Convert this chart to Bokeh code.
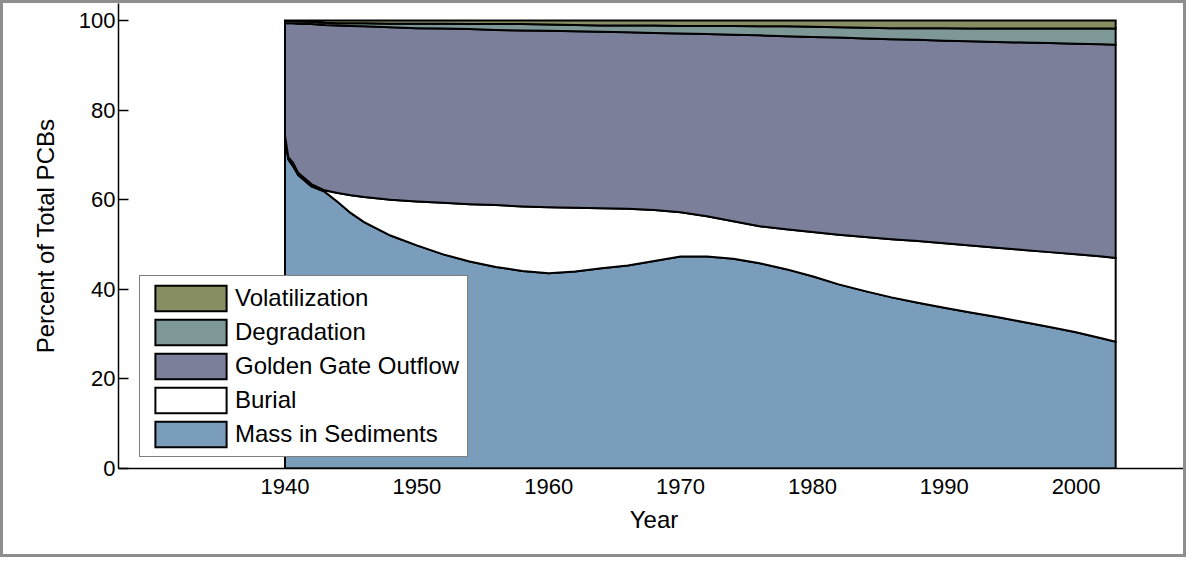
import numpy as np
from bokeh.plotting import figure
from bokeh.models import FixedTicker, Legend, LegendItem, Range1d
from bokeh.embed import file_html
from bokeh.resources import INLINE

# ---- data (percent of total PCBs) ----
years = [1940, 1940.25, 1940.6, 1941, 1942, 1943, 1944, 1945, 1946, 1948,
         1950, 1952, 1954, 1956, 1958, 1960, 1962, 1964, 1966, 1968,
         1970, 1972, 1974, 1976, 1978, 1980, 1982, 1984, 1986, 1988,
         1990, 1992, 1994, 1996, 1998, 2000, 2002, 2003]

mass_in_sediments = [74.0, 69.0, 67.5, 65.5, 63.0, 61.8, 59.5, 57.0, 55.0, 52.0,
                     49.8, 47.8, 46.2, 45.0, 44.1, 43.6, 44.0, 44.7, 45.3, 46.3,
                     47.3, 47.3, 46.8, 45.8, 44.5, 42.9, 41.1, 39.6, 38.2, 37.0,
                     35.9, 34.8, 33.8, 32.7, 31.6, 30.4, 29.0, 28.3]

burial = [0.3, 0.5, 0.8, 0.5, 0.5, 0.3, 2.0, 4.0, 5.6, 8.0,
          9.8, 11.5, 12.8, 13.8, 14.4, 14.7, 14.2, 13.4, 12.7, 11.4,
          9.9, 9.0, 8.4, 8.3, 8.9, 9.9, 11.1, 12.1, 13.0, 13.8,
          14.4, 15.0, 15.5, 16.1, 16.7, 17.4, 18.3, 18.7]

golden_gate_outflow = [25.1, 29.9, 31.1, 33.3, 35.7, 36.9, 37.4, 37.8, 38.1, 38.5,
                       38.7, 38.9, 39.1, 39.1, 39.3, 39.4, 39.4, 39.4, 39.4, 39.5,
                       39.9, 40.7, 41.6, 42.6, 43.1, 43.5, 44.0, 44.3, 44.6, 44.9,
                       45.2, 45.6, 45.9, 46.3, 46.7, 47.0, 47.4, 47.6]

degradation = [0.5, 0.5, 0.5, 0.5, 0.5, 0.5, 0.5, 0.6, 0.7, 0.8,
               1.0, 1.1, 1.1, 1.3, 1.4, 1.4, 1.4, 1.4, 1.5, 1.7,
               1.7, 1.8, 2.0, 2.0, 2.2, 2.3, 2.3, 2.4, 2.5, 2.6,
               2.8, 2.8, 3.0, 3.1, 3.2, 3.4, 3.5, 3.6]

volatilization = [0.1, 0.1, 0.1, 0.2, 0.3, 0.5, 0.6, 0.6, 0.6, 0.7,
                  0.7, 0.7, 0.8, 0.8, 0.8, 0.9, 1.0, 1.1, 1.1, 1.1,
                  1.2, 1.2, 1.2, 1.3, 1.3, 1.4, 1.5, 1.6, 1.7, 1.7,
                  1.7, 1.8, 1.8, 1.8, 1.8, 1.8, 1.8, 1.8]

series_names = ["Mass in Sediments", "Burial", "Golden Gate Outflow",
                "Degradation", "Volatilization"]
series_values = [mass_in_sediments, burial, golden_gate_outflow,
                 degradation, volatilization]
series_colors = ["#7b9dbc", "#ffffff", "#7b7f99", "#7e9897", "#878f62"]

x_ticks = [1940, 1950, 1960, 1970, 1980, 1990, 2000]
y_ticks = [0, 20, 40, 60, 80, 100]

FONT = "Liberation Sans"

p = figure(width=1186, height=557, output_backend="svg", toolbar_location=None,
           x_range=Range1d(1927.37, 2008.6), y_range=Range1d(0, 103.8),
           min_border_left=115, min_border_right=0, min_border_top=0,
           min_border_bottom=92)
p.styles = {"border": "3px solid #8e8e8e"}

p.background_fill_color = "white"
p.border_fill_color = "white"
p.outline_line_color = None
p.xgrid.visible = False
p.ygrid.visible = False

lower = np.zeros(len(years))
renderers = []
for name, vals, color in zip(series_names, series_values, series_colors):
    upper = lower + np.array(vals, dtype=float)
    xs = list(years) + list(years[::-1])
    ys = list(upper) + list(lower[::-1])
    r = p.patch(xs, ys, fill_color=color, line_color="black", line_width=2,
                line_join="miter")
    renderers.append((name, r))
    lower = upper

items = [LegendItem(label=n, renderers=[r]) for n, r in reversed(renderers)]
legend = Legend(items=items, location=(21, 11), margin=0, padding=6,
                spacing=2, glyph_width=89, glyph_height=32, label_standoff=0,
                label_width=226,
                label_text_font=FONT, label_text_font_size="24px",
                label_text_color="black",
                border_line_color="black", border_line_width=1,
                background_fill_color="white", background_fill_alpha=1.0)
p.add_layout(legend)

# axes
p.xaxis.ticker = FixedTicker(ticks=x_ticks)
p.yaxis.ticker = FixedTicker(ticks=y_ticks)
for ax in (p.xaxis[0], p.yaxis[0]):
    ax.axis_line_color = "black"
    ax.axis_line_width = 1.5
    ax.major_tick_line_color = "black"
    ax.major_tick_line_width = 1.5
    ax.minor_tick_line_color = None
    ax.major_label_text_font = FONT
    ax.major_label_text_font_size = "22px"
    ax.major_label_text_color = "black"
    ax.axis_label_text_font = FONT
    ax.axis_label_text_font_size = "24px"
    ax.axis_label_text_font_style = "normal"
    ax.axis_label_text_color = "black"

p.xaxis.major_tick_in = 0
p.xaxis.major_tick_out = 0
p.xaxis.major_label_standoff = 10
p.xaxis.axis_label = "Year"
p.xaxis.axis_label_standoff = 9

p.yaxis.major_tick_in = 10
p.yaxis.major_tick_out = 0
p.yaxis.major_label_standoff = 3
p.yaxis.axis_label = "Percent of Total PCBs"
p.yaxis.axis_label_standoff = 17

open("out.html", "w").write(file_html(p, INLINE))
